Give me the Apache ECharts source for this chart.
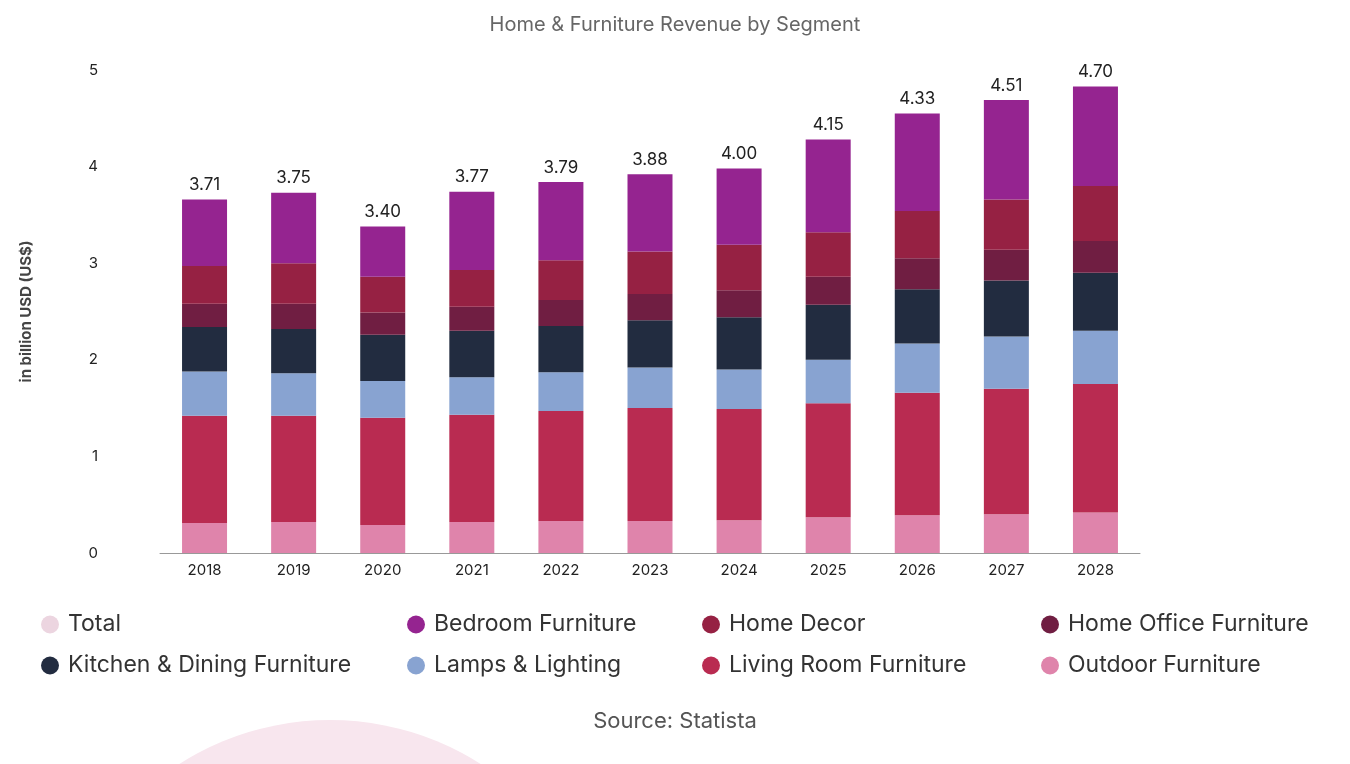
<!DOCTYPE html>
<html><head><meta charset="utf-8">
<script src="https://cdn.jsdelivr.net/npm/echarts@6/dist/echarts.min.js"></script>
<style>html,body{margin:0;padding:0;background:#fff}#c{width:1350px;height:764px}</style>
</head><body><div id="c"></div>
<script>
const years = ['2018','2019','2020','2021','2022','2023','2024','2025','2026','2027','2028'];
const totals = [3.71,3.75,3.40,3.77,3.79,3.88,4.00,4.15,4.33,4.51,4.70];
const outdoor = [0.31,0.32,0.29,0.32,0.33,0.33,0.34,0.37,0.39,0.40,0.42];
const living = [1.11,1.10,1.11,1.11,1.14,1.17,1.15,1.18,1.27,1.30,1.33];
const lamps = [0.46,0.44,0.38,0.39,0.40,0.42,0.41,0.45,0.51,0.54,0.55];
const kitchen = [0.46,0.46,0.48,0.48,0.48,0.49,0.54,0.57,0.56,0.58,0.60];
const office = [0.24,0.26,0.23,0.25,0.27,0.27,0.28,0.29,0.32,0.32,0.33];
const decor = [0.39,0.42,0.37,0.38,0.41,0.44,0.47,0.46,0.49,0.52,0.57];
const bedroom = [0.69,0.73,0.52,0.81,0.81,0.80,0.79,0.96,1.01,1.03,1.03];

const names = ['Outdoor Furniture','Living Room Furniture','Lamps & Lighting','Kitchen & Dining Furniture','Home Office Furniture','Home Decor','Bedroom Furniture'];
const data = [outdoor,living,lamps,kitchen,office,decor,bedroom];
const colors = ['#df84ab','#b92b51','#88a3d1','#222c40','#701e42','#962143','#952490'];
const series = names.map((n,i)=>({name:n,type:'bar',stack:'s',data:data[i],barWidth:45,itemStyle:{color:colors[i]}}));
series.push({name:'Total',type:'bar',stack:'s',data:totals.map(()=>0),itemStyle:{color:'#ecd5e0'},
  label:{show:true,position:'top',distance:6,formatter:p=>totals[p.dataIndex].toFixed(2),fontSize:17,color:'#222',fontFamily:'Inter'}});

const lg = (left, items)=>({left:left,top:608,orient:'vertical',itemGap:18,icon:'circle',itemWidth:18,itemHeight:18,
  textStyle:{fontSize:23,color:'#333',fontFamily:'Inter',padding:[0,0,0,4]},data:items});

const chart = echarts.init(document.getElementById('c'));
chart.setOption({
  animation:false,
  color:colors,
  title:{text:'Home & Furniture Revenue by Segment',left:'center',top:10,textStyle:{fontSize:20,fontWeight:'normal',color:'#666',fontFamily:'Inter'}},
  grid:{left:160,right:210,top:70,bottom:211},
  legend:[lg(36,['Total','Kitchen & Dining Furniture']),lg(402,['Bedroom Furniture','Lamps & Lighting']),
          lg(697,['Home Decor','Living Room Furniture']),lg(1036,['Home Office Furniture','Outdoor Furniture'])],
  xAxis:{type:'category',data:years,axisTick:{show:false},axisLine:{lineStyle:{color:'#999'}},
    axisLabel:{fontSize:15,color:'#222',margin:10,fontFamily:'Inter'}},
  yAxis:{type:'value',min:0,max:5,interval:1,splitLine:{show:false},
    axisLabel:{fontSize:15,color:'#222',margin:62,fontFamily:'Inter'},
    name:'in billion USD (US$)',nameLocation:'middle',nameGap:126,nameTextStyle:{fontSize:15,fontWeight:'bold',color:'#444',fontFamily:'Inter'}},
  graphic:[
    {type:'circle',z:-10,shape:{cx:330,cy:1000,r:280},style:{fill:'#f8e6ee'}},
    {type:'text',left:'center',top:710,style:{text:'Source: Statista',fontSize:22,fill:'#555',fontFamily:'Inter'}}
  ],
  series:series
});
</script></body></html>
